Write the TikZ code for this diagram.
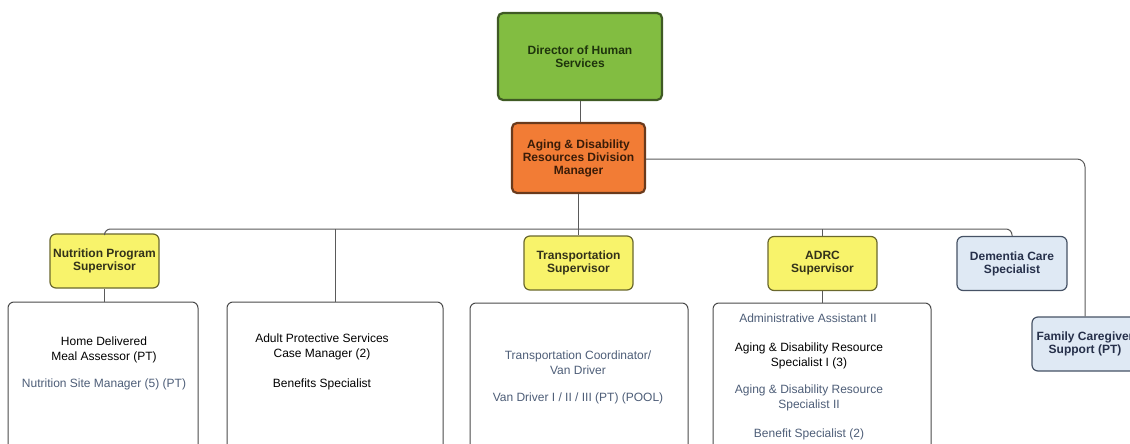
\documentclass[tikz,border=0pt]{standalone}
\usepackage{fontspec}
\setmainfont{Liberation Sans}
\definecolor{dirfill}{HTML}{82BD41}
\definecolor{dirline}{HTML}{3F5A24}
\definecolor{dirtext}{HTML}{1E340C}
\definecolor{mgrfill}{HTML}{F27C35}
\definecolor{mgrline}{HTML}{6A3A1C}
\definecolor{mgrtext}{HTML}{3A1C08}
\definecolor{supfill}{HTML}{F8F36B}
\definecolor{supline}{HTML}{6A682E}
\definecolor{suptext}{HTML}{33321A}
\definecolor{blufill}{HTML}{DFE9F4}
\definecolor{bluline}{HTML}{465265}
\definecolor{blutext}{HTML}{26304A}
\definecolor{slate}{HTML}{4E5E78}
\definecolor{connc}{HTML}{5A5A5A}
\definecolor{boxline}{HTML}{4A4A4A}
\begin{document}
\begin{tikzpicture}[x=1pt,y=-1pt,
  headfont/.style={font=\fontsize{12}{13}\selectfont\bfseries, align=center},
  topbox/.style={headfont, draw=dirline, line width=2.2pt, fill=dirfill, text=dirtext, rounded corners=5pt, inner sep=0pt},
  mgrbox/.style={headfont, draw=mgrline, line width=2.2pt, fill=mgrfill, text=mgrtext, rounded corners=5pt, inner sep=0pt},
  supbox/.style={headfont, draw=supline, line width=1.2pt, fill=supfill, text=suptext, rounded corners=6pt, inner sep=0pt, minimum width=109pt, minimum height=54pt},
  blubox/.style={headfont, draw=bluline, line width=1.2pt, fill=blufill, text=blutext, rounded corners=6pt, inner sep=0pt, minimum height=54pt},
  childbox/.style={draw=boxline, line width=1pt, fill=white, rounded corners=6pt, inner sep=0pt},
  txt/.style={font=\fontsize{12}{15}\selectfont, align=center, inner sep=0pt},
  connector/.style={draw=connc, line width=1pt}
]
\useasboundingbox[fill=white] (0,0) rectangle (1130,444);

% top boxes
\node[topbox, minimum width=164pt, minimum height=87pt] (dir) at (580,56.5) {Director of Human\\Services};
\node[mgrbox, minimum width=133pt, minimum height=70pt] (mgr) at (578.5,158) {Aging \& Disability\\Resources Division\\Manager};

% supervisors
\node[supbox] (nut) at (104.5,261) {Nutrition Program\\Supervisor};
\node[supbox] (trs) at (578.5,263) {Transportation\\Supervisor};
\node[supbox] (adrc) at (822.5,263.5) {ADRC\\Supervisor};
\node[blubox, minimum width=110pt] (dem) at (1012,263.5) {Dementia Care\\Specialist};
\node[blubox, minimum width=106pt] (fam) at (1085,344) {Family Caregiver\\Support (PT)};

% staff boxes
\node[childbox, minimum width=190pt, minimum height=170pt] (nutbox) at (103,387) {};
\node[childbox, minimum width=216pt, minimum height=170pt] (apsbox) at (335,387) {};
\node[childbox, minimum width=218pt, minimum height=170pt] (trsbox) at (579,388) {};
\node[childbox, minimum width=218pt, minimum height=170pt] (adrcbox) at (822,388) {};

% staff texts
\node[txt] (t1) at (104,350) {Home Delivered\\Meal Assessor (PT)};
\node[txt, text=slate] (t2) at (104,384) {Nutrition Site Manager (5) (PT)};
\node[txt] (t3) at (322,346.5) {Adult Protective Services\\Case Manager (2)};
\node[txt] (t4) at (322,384) {Benefits Specialist};
\node[txt, text=slate] (t5) at (578,362.5) {Transportation Coordinator/\\Van Driver};
\node[txt, text=slate] (t6) at (578,398) {Van Driver I / II / III (PT) (POOL)};
\node[txt, text=slate] (t7) at (808,318) {Administrative Assistant II};
\node[txt] (t8) at (809,355.5) {Aging \& Disability Resource\\Specialist I (3)};
\node[txt, text=slate] (t9) at (809,397.5) {Aging \& Disability Resource\\Specialist II};
\node[txt, text=slate] (t10) at (809,434) {Benefit Specialist (2)};

% connectors
\coordinate (bus) at (0,229);
\draw[connector] (dir.south) -- (dir.south |- mgr.north);
\draw[connector, rounded corners=6pt] (nut.north) |- (bus -| dem.north) -- (dem.north);
\draw[connector] (mgr.south) -- (trs.north);
\draw[connector, rounded corners=4pt] (apsbox.north) -- (apsbox.north |- bus);
\draw[connector] (adrc.north) -- (adrc.north |- bus);
\draw[connector] (nut.south) -- (nut.south |- nutbox.north);
\draw[connector] (adrc.south) -- (adrc.south |- adrcbox.north);
\draw[connector, rounded corners=8pt] (mgr.east |- 0,159) -| (fam.north);
\end{tikzpicture}
\end{document}
